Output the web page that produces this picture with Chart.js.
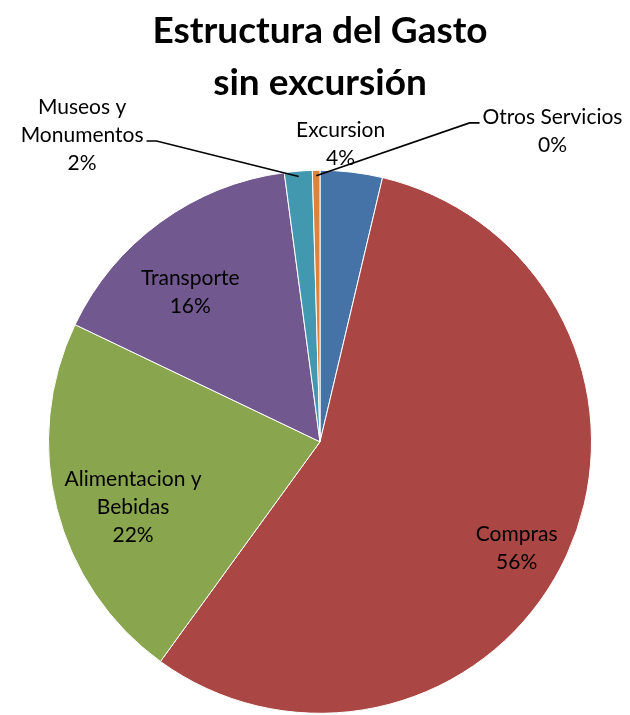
<!DOCTYPE html>
<html>
<head>
<meta charset="utf-8">
<script src="https://cdn.jsdelivr.net/npm/chart.js@4.4.1/dist/chart.umd.min.js"></script>
<style>
  html, body { margin: 0; padding: 0; background: #fff; }
  #wrap { width: 630px; height: 715px; }
</style>
</head>
<body>
<div id="wrap"><canvas id="pie" width="630" height="715"></canvas></div>
<script>
// values (percent of total spending)
const categories = ["Excursion", "Compras", "Alimentacion y Bebidas", "Transporte", "Museos y Monumentos", "Otros Servicios"];
const labelLines = [["Excursion"], ["Compras"], ["Alimentacion y", "Bebidas"], ["Transporte"], ["Museos y", "Monumentos"], ["Otros Servicios"]];
const values = [3.7, 56.3, 22.1, 15.8, 1.65, 0.45];
const colors = ["#4572A7", "#AA4643", "#89A54E", "#71588F", "#4198AF", "#DB843D"];

// label placement: radius factor and angle shift (deg) from slice middle, plus leader side
const labelPos = [
  { r: 1.10, shift: -2.7 },
  { r: 0.824, shift: 3.8 },
  { r: 0.73, shift: -5.2 },
  { r: 0.73, shift: -4.9 },
  { r: 1.43, shift: -33.2, leader: "right", leaderLine: 1 },
  { r: 1.43, shift: 37.6, leader: "left", leaderLine: 0 }
];

const FONT = "Lato, 'Liberation Sans', sans-serif";

const pieLabels = {
  id: "pieLabels",
  afterDatasetsDraw(chart) {
    const ctx = chart.ctx;
    const meta = chart.getDatasetMeta(0);
    const total = values.reduce((a, b) => a + b, 0);
    const lh = 28;
    ctx.save();
    ctx.font = "21px " + FONT;
    ctx.fillStyle = "#000";
    ctx.textAlign = "center";
    ctx.textBaseline = "middle";
    meta.data.forEach((arc, i) => {
      const p = arc.getProps(["x", "y", "startAngle", "endAngle", "outerRadius"], true);
      const mid = (p.startAngle + p.endAngle) / 2;
      const pos = labelPos[i];
      const a = mid + pos.shift * Math.PI / 180;
      const lx = p.x + Math.cos(a) * p.outerRadius * pos.r;
      const ly = p.y + Math.sin(a) * p.outerRadius * pos.r;
      const lines = labelLines[i].concat([Math.round(values[i] / total * 100) + "%"]);
      const top = ly - (lines.length - 1) * lh / 2;
      lines.forEach((t, k) => ctx.fillText(t, lx, top + k * lh));
      if (pos.leader) {
        const maxW = Math.max(...lines.map(t => ctx.measureText(t).width));
        const hy = top + pos.leaderLine * lh + 6;
        const dir = pos.leader === "right" ? 1 : -1;
        const hx1 = lx + dir * (maxW / 2 + 3);
        const hx2 = hx1 + dir * 10;
        const px = p.x + Math.cos(mid) * p.outerRadius * 0.98;
        const py = p.y + Math.sin(mid) * p.outerRadius * 0.98;
        ctx.beginPath();
        ctx.strokeStyle = "#000";
        ctx.lineWidth = 1.6;
        ctx.moveTo(hx1, hy);
        ctx.lineTo(hx2, hy);
        ctx.lineTo(px, py);
        ctx.stroke();
      }
    });
    ctx.restore();
  }
};

new Chart(document.getElementById("pie"), {
  type: "pie",
  data: {
    labels: categories,
    datasets: [{
      data: values,
      backgroundColor: colors,
      borderColor: "#ffffff",
      borderWidth: 1
    }]
  },
  options: {
    responsive: false,
    animation: false,
    layout: { padding: { left: 48, right: 38, top: 0, bottom: 1 } },
    plugins: {
      legend: { display: false },
      tooltip: { enabled: false },
      title: {
        display: true,
        text: ["Estructura del Gasto", "sin excursión"],
        color: "#000",
        font: { family: FONT, size: 37, weight: "bold", lineHeight: 1.4 },
        padding: { top: 5, bottom: 61 }
      }
    }
  },
  plugins: [pieLabels]
});
</script>
</body>
</html>
